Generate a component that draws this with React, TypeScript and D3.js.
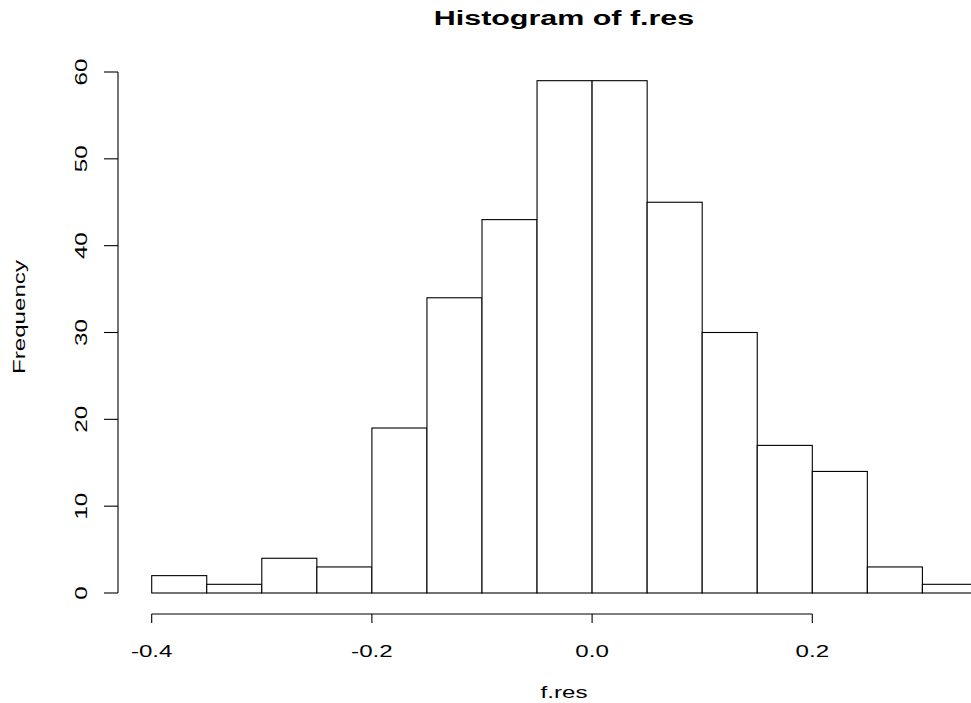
import React from 'react';
import * as d3 from 'd3';

// histogram of f.res (bin edges and counts)
const breaks = [-0.4, -0.35, -0.3, -0.25, -0.2, -0.15, -0.1, -0.05, 0.0, 0.05, 0.1, 0.15, 0.2, 0.25, 0.3, 0.35];
const counts = [2, 1, 4, 3, 19, 34, 43, 59, 59, 45, 30, 17, 14, 3, 1];
const xTicks = [-0.4, -0.2, 0.0, 0.2];
const yTicks = [0, 10, 20, 30, 40, 50, 60];

const W = 971;
const H = 703;
const FONT = '"Liberation Sans", Arial, Helvetica, sans-serif';
const SX = 1.42; // text in the reference is drawn wide

const App = () => {
  const x = d3.scaleLinear().domain([-0.4, 0.2]).range([151.7, 812.3]);
  const y = d3.scaleLinear().domain([0, 60]).range([593, 72]);

  const bins = counts.map((c, i) => ({ x0: breaks[i], x1: breaks[i + 1], count: c }));
  const axisY = 614;
  const axisX = 118;

  return (
    <svg
      width={W}
      height={H}
      style={{ position: 'absolute', left: 0, top: 0, background: '#fff' }}
      fontFamily={FONT}
    >
      {/* title */}
      <text
        transform={`translate(564,25) scale(1.45,1)`}
        textAnchor="middle"
        fontSize={21}
        fontWeight="bold"
      >
        Histogram of f.res
      </text>

      {/* bars */}
      <g fill="#fff" stroke="#000" strokeWidth={1.1}>
        {bins.map((b, i) => (
          <rect
            key={i}
            x={x(b.x0)}
            y={y(b.count)}
            width={x(b.x1) - x(b.x0)}
            height={y(0) - y(b.count)}
          />
        ))}
      </g>

      {/* x axis */}
      <g stroke="#000" strokeWidth={1.1}>
        <line x1={x(xTicks[0])} x2={x(xTicks[xTicks.length - 1])} y1={axisY} y2={axisY} />
        {xTicks.map((t) => (
          <line key={t} x1={x(t)} x2={x(t)} y1={axisY} y2={axisY + 9} />
        ))}
      </g>
      {xTicks.map((t) => (
        <text
          key={t}
          transform={`translate(${x(t)},657) scale(${SX},1)`}
          textAnchor="middle"
          fontSize={17}
        >
          {t.toFixed(1)}
        </text>
      ))}

      {/* y axis */}
      <g stroke="#000" strokeWidth={1.1}>
        <line x1={axisX} x2={axisX} y1={y(yTicks[0])} y2={y(yTicks[yTicks.length - 1])} />
        {yTicks.map((t) => (
          <line key={t} x1={axisX - 14} x2={axisX} y1={y(t)} y2={y(t)} />
        ))}
      </g>
      {yTicks.map((t) => (
        <text
          key={t}
          transform={`translate(87,${y(t)}) rotate(-90) scale(${SX},1)`}
          textAnchor="middle"
          fontSize={17}
        >
          {t}
        </text>
      ))}

      {/* axis titles */}
      <text transform={`translate(564,698) scale(${SX},1)`} textAnchor="middle" fontSize={17}>
        f.res
      </text>
      <text
        transform={`translate(25,317) rotate(-90) scale(${SX},1)`}
        textAnchor="middle"
        fontSize={17}
      >
        Frequency
      </text>
    </svg>
  );
};

export default App;
